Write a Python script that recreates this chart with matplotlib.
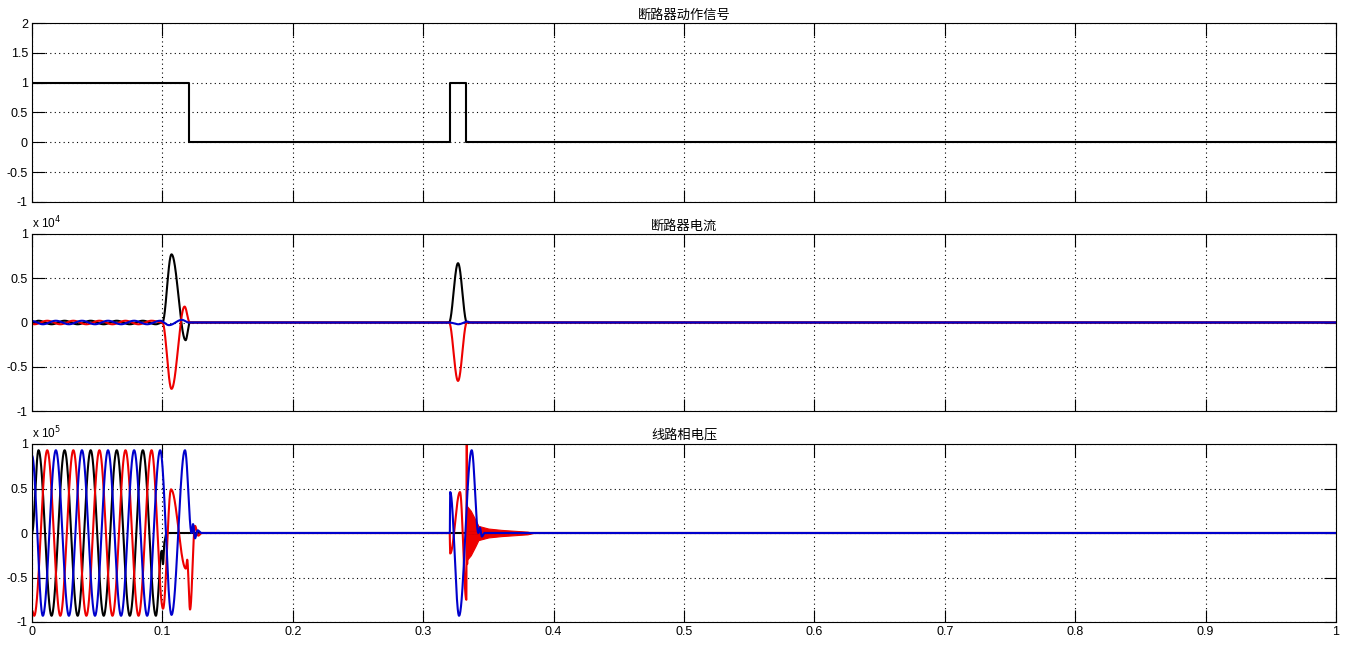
import numpy as np
import matplotlib.pyplot as plt
from matplotlib.ticker import FuncFormatter

plt.rcParams['font.family'] = ['Liberation Sans', 'Noto Sans CJK SC', 'DejaVu Sans']
plt.rcParams['axes.unicode_minus'] = False

titles = ['断路器动作信号', '断路器电流', '线路相电压']

# breaker command (step signal)
sig_t = [0.0, 0.1205, 0.3205, 0.3330, 1.0]
sig_v = [1, 0, 1, 0, 0]

# breaker current, extremes (t in s, value in 1e4 A)
ia_t = [0.0, 0.005, 0.015, 0.025, 0.035, 0.045, 0.055, 0.065, 0.075, 0.085, 0.095,
        0.1, 0.107, 0.1178, 0.121, 0.3198, 0.3267, 0.3335, 1.0]
ia_v = [0.0, 0.02, -0.02, 0.02, -0.02, 0.02, -0.02, 0.02, -0.02, 0.02, -0.02,
        0.0, 0.77, -0.20, 0.0, 0.0, 0.67, 0.0, 0.0]
ib_t = [0.0, 0.0017, 0.0117, 0.0217, 0.0317, 0.0417, 0.0517, 0.0617, 0.0717, 0.0817, 0.0917,
        0.1, 0.107, 0.117, 0.121, 0.3198, 0.3267, 0.3335, 1.0]
ib_v = [-0.017, -0.02, 0.02, -0.02, 0.02, -0.02, 0.02, -0.02, 0.02, -0.02, 0.02,
        0.0, -0.75, 0.18, 0.0, 0.0, -0.66, 0.0, 0.0]
ic_t = [0.0, 0.0083, 0.0183, 0.0283, 0.0383, 0.0483, 0.0583, 0.0683, 0.0783, 0.0883, 0.0983,
        0.105, 0.115, 0.12, 0.32, 0.327, 0.334, 0.336, 1.0]
ic_v = [0.017, -0.02, 0.02, -0.02, 0.02, -0.02, 0.02, -0.02, 0.02, -0.02, 0.02,
        -0.03, 0.03, 0.0, 0.0, -0.02, 0.01, 0.0, 0.0]

# line phase voltage, extremes (t in s, value in 1e5 V)
va_t = [0.0, 0.005, 0.015, 0.025, 0.035, 0.045, 0.055, 0.065, 0.075, 0.085, 0.095,
        0.0995, 0.1005, 0.1015, 0.103, 1.0]
va_v = [0.0, 0.93, -0.93, 0.93, -0.93, 0.93, -0.93, 0.93, -0.93, 0.93, -0.93,
        -0.2, -0.35, -0.1, 0.0, 0.0]
vb_t = [0.0, 0.0017, 0.0117, 0.0217, 0.0317, 0.0417, 0.0517, 0.0617, 0.0717, 0.0817, 0.0917,
        0.1005, 0.1066, 0.1180, 0.1190, 0.1212, 0.1250, 0.1275, 0.1300,
        0.3203, 0.3207, 0.3282, 0.3331, 0.3334, 0.3337, 0.3340, 1.0]
vb_v = [-0.87, -0.93, 0.93, -0.93, 0.93, -0.93, 0.93, -0.93, 0.93, -0.93, 0.93,
        -0.85, 0.49, -0.40, -0.30, -0.86, 0.08, -0.03, 0.0,
        0.0, -0.23, 0.46, -0.75, 1.05, -0.35, 0.0, 0.0]
vc_t = [0.0, 0.0083, 0.0183, 0.0283, 0.0383, 0.0483, 0.0583, 0.0683, 0.0783, 0.0883, 0.0983,
        0.1070, 0.1173, 0.1224, 0.1235, 0.1250, 0.1270, 0.1300,
        0.3204, 0.3207, 0.3275, 0.3372, 0.3423, 0.3435, 0.3450, 0.3470, 1.0]
vc_v = [0.87, -0.93, 0.93, -0.93, 0.93, -0.93, 0.93, -0.93, 0.93, -0.93, 0.93,
        -0.92, 0.93, 0.0, 0.10, -0.06, 0.03, 0.0,
        0.0, 0.46, -0.93, 0.93, 0.0, 0.06, -0.04, 0.0, 0.0]

# envelope of the dense red ringing after reclosing (1e5 V)
ring_t = [0.3337, 0.3365, 0.3400, 0.3423, 0.35, 0.36, 0.37, 0.38, 0.3844]
ring_v = [0.30, 0.25, 0.15, 0.08, 0.05, 0.035, 0.025, 0.015, 0.0]


def arcs(kt, kv, n=80):
    # half-cosine segments between successive extremes
    tt, vv = [], []
    for i in range(len(kt) - 1):
        s = np.linspace(0, 1, n)
        tt.append(kt[i] + (kt[i + 1] - kt[i]) * s)
        vv.append(kv[i] + (kv[i + 1] - kv[i]) * (1 - np.cos(np.pi * s)) / 2)
    return np.concatenate(tt), np.concatenate(vv)


RED = '#ee0000'
BLUE = '#0000cc'
LW = 1.5
fmt = lambda k: FuncFormatter(lambda v, p: '%g' % round(v / k, 3))

fig = plt.figure(figsize=(13.5, 6.45), dpi=100)
L, W = 32 / 1350, 1304 / 1350
boxes = [(23, 202), (234, 411), (444, 622)]
axs = [fig.add_axes([L, 1 - b / 645, W, (b - t) / 645]) for t, b in boxes]

# panel 1
ax = axs[0]
ax.plot(sig_t, sig_v, color='k', lw=LW, drawstyle='steps-post')
ax.set_ylim(-1, 2)
ax.set_yticks(np.arange(-1, 2.01, 0.5))
ax.yaxis.set_major_formatter(fmt(1))

# panel 2
ax = axs[1]
for kt, kv, c in [(ia_t, ia_v, 'k'), (ib_t, ib_v, RED), (ic_t, ic_v, BLUE)]:
    tt, vv = arcs(kt, kv)
    ax.plot(tt, vv * 1e4, color=c, lw=LW)
ax.set_ylim(-1e4, 1e4)
ax.set_yticks(np.arange(-1e4, 1.01e4, 0.5e4))
ax.yaxis.set_major_formatter(fmt(1e4))
ax.text(0, 1.015, r'x 10$^{4}$', transform=ax.transAxes, fontsize=8.5, ha='left', va='bottom')

# panel 3
ax = axs[2]
for kt, kv, c in [(va_t, va_v, 'k'), (vb_t, vb_v, RED)]:
    tt, vv = arcs(kt, kv)
    ax.plot(tt, vv * 1e5, color=c, lw=LW)
ax.fill_between(ring_t, -np.array(ring_v) * 1e5, np.array(ring_v) * 1e5, color=RED, lw=0.8)
tt, vv = arcs(vc_t, vc_v)
ax.plot(tt, vv * 1e5, color=BLUE, lw=LW)
ax.set_ylim(-1e5, 1e5)
ax.set_yticks(np.arange(-1e5, 1.01e5, 0.5e5))
ax.yaxis.set_major_formatter(fmt(1e5))
ax.text(0, 1.015, r'x 10$^{5}$', transform=ax.transAxes, fontsize=8.5, ha='left', va='bottom')

for i, ax in enumerate(axs):
    ax.set_xlim(0, 1)
    ax.set_xticks(np.arange(0, 1.01, 0.1))
    ax.xaxis.set_major_formatter(fmt(1))
    ax.grid(True, color='k', linestyle=(0, (1, 3)), lw=0.8)
    ax.tick_params(direction='in', length=9, width=0.8, top=True, right=True,
                   labelsize=9, pad=3)
    if i < 2:
        ax.tick_params(labelbottom=False)
    for sp in ax.spines.values():
        sp.set_linewidth(0.8)
    ax.set_title(titles[i], fontsize=9.5, pad=3)

fig.savefig('out.png', dpi=100, facecolor='white')
